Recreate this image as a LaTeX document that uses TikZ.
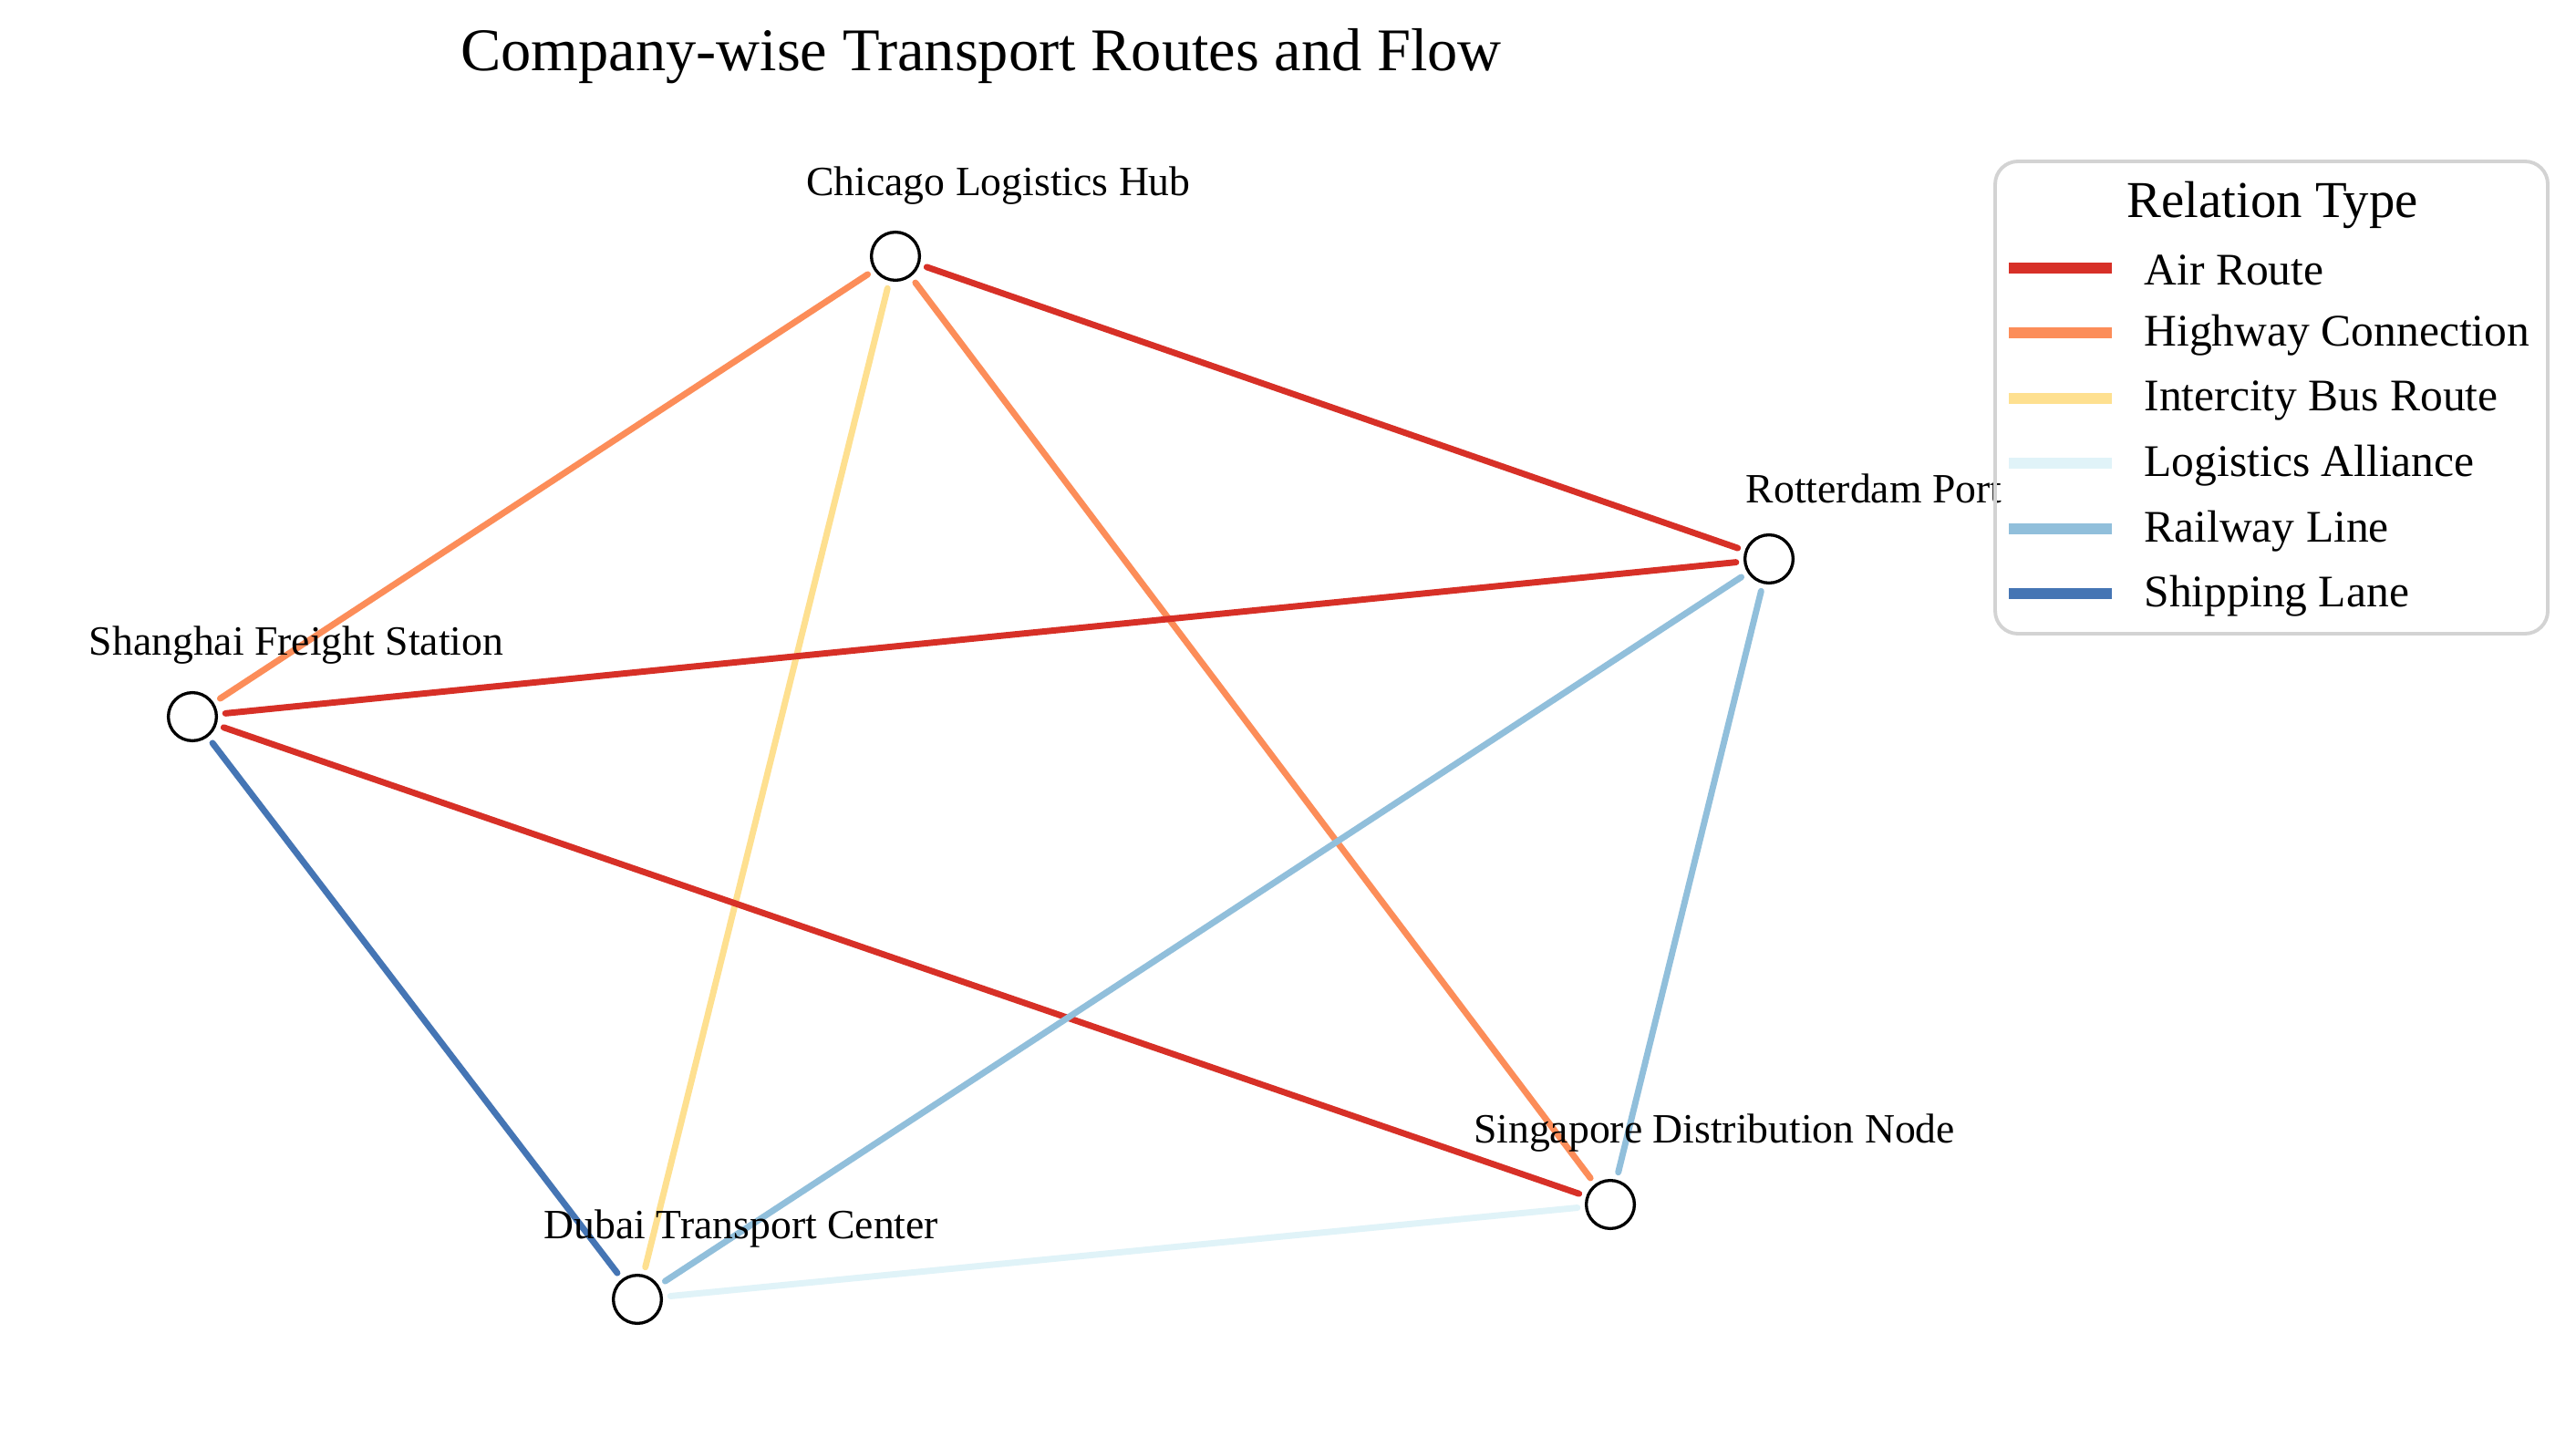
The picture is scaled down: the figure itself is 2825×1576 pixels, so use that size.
\documentclass[tikz,border=0pt]{standalone}
\usepackage{fontspec}
\setmainfont{Liberation Serif}
\usepackage{tikz}
\usetikzlibrary{positioning}

\definecolor{airred}{HTML}{D73027}
\definecolor{hworange}{HTML}{FC8D59}
\definecolor{busyellow}{HTML}{FEE090}
\definecolor{allblue}{HTML}{E0F3F8}
\definecolor{railblue}{HTML}{91BFDB}
\definecolor{shipblue}{HTML}{4575B4}
\definecolor{legframe}{HTML}{D3D3D3}

\tikzset{
  hub/.style={circle,draw=black,fill=white,line width=1.2pt,minimum size=0.67cm,inner sep=0pt},
  hublabel/.style={font=\fontsize{16.5}{19}\selectfont,inner sep=0pt},
  route/.style={line width=2.5pt,line cap=round,shorten <=3pt,shorten >=3pt},
}

\begin{document}
\begin{tikzpicture}[x=0.0127cm,y=-0.0127cm]
\useasboundingbox[fill=white] (0,0) rectangle (2825,1576);
% title
\node[font=\fontsize{24}{28}\selectfont] (title) at (1076,62) {Company-wise Transport Routes and Flow};
% hubs
\node[hub] (chi) at (982,281) {};
\node[hub] (rot) at (1940,613) {};
\node[hub] (sha) at (211,786) {};
\node[hub] (sin) at (1766,1321) {};
\node[hub] (dub) at (699,1425) {};
% routes
\path (chi) edge[route,hworange] (sha)
   (chi) edge[route,hworange] (sin)
   (chi) edge[route,busyellow] (dub)
   (chi) edge[route,airred] (rot)
   (sha) edge[route,airred] (rot)
   (sha) edge[route,airred] (sin)
   (dub) edge[route,allblue] (sin)
   (rot) edge[route,railblue] (dub)
   (rot) edge[route,railblue] (sin)
   (sha) edge[route,shipblue] (dub)
;
% hub names
\node[hublabel] (chi-l) at (1095,204) {Chicago Logistics Hub};
\node[hublabel] (rot-l) at (2055,536) {Rotterdam Port};
\node[hublabel] (sha-l) at (325,708) {Shanghai Freight Station};
\node[hublabel] (sin-l) at (1880,1243) {Singapore Distribution Node};
\node[hublabel] (dub-l) at (813,1348) {Dubai Transport Center};
% legend
\draw[legframe,line width=1.4pt,rounded corners=9] (2188,177) rectangle (2794,695);
\node[font=\fontsize{20.5}{24}\selectfont] (leg-title) at (2492,225) {Relation Type};
\foreach \kind/\col [count=\i] in {Air Route/airred,Highway Connection/hworange,Intercity Bus Route/busyellow,Logistics Alliance/allblue,Railway Line/railblue,Shipping Lane/shipblue}
{
  \draw[\col,line width=4.3pt] (2203,{294+(\i-1)*71.4}) -- ++(113,0);
  \node[anchor=west,inner sep=0pt,font=\fontsize{17.9}{21}\selectfont] (leg-\i) at (2351,{296+(\i-1)*71.6}) {\kind};
}
\end{tikzpicture}
\end{document}
